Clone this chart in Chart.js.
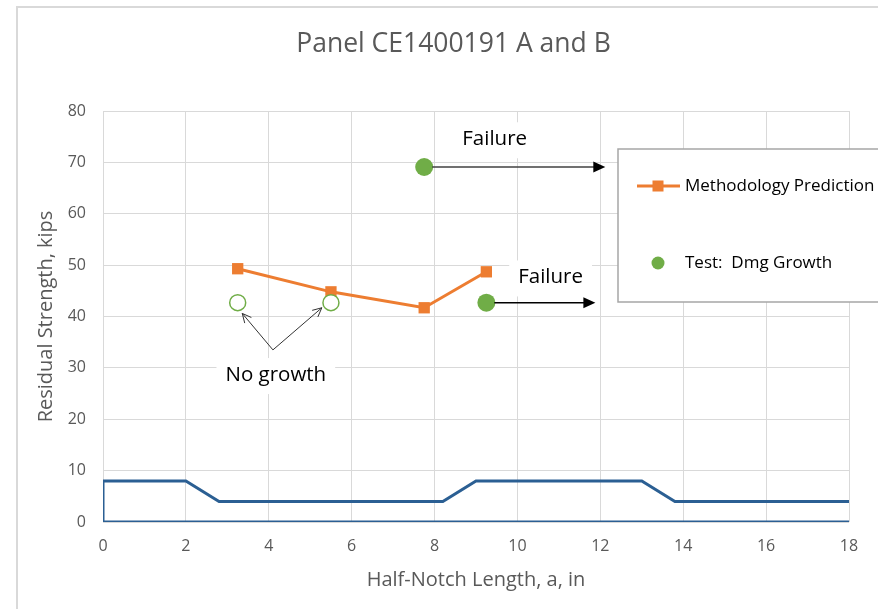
<!DOCTYPE html>
<html>
<head>
<meta charset="utf-8">
<script src="https://cdn.jsdelivr.net/npm/chart.js@4.4.1/dist/chart.umd.min.js"></script>
<style>
  html, body { margin: 0; padding: 0; background: #ffffff; }
  #wrap { position: relative; width: 878px; height: 609px; }
</style>
</head>
<body>
<div id="wrap"><canvas id="c"></canvas></div>
<script>
// ---- data ----
const chartTitle = 'Panel CE1400191 A and B';
const xTitle = 'Half-Notch Length, a, in';
const yTitle = 'Residual Strength, kips';
const xTickValues = [0, 2, 4, 6, 8, 10, 12, 14, 16, 18];
const yTickValues = [0, 10, 20, 30, 40, 50, 60, 70, 80];

const predLabel = 'Methodology Prediction';
const predX = [3.25, 5.5, 7.75, 9.25];
const predY = [49.3, 44.8, 41.7, 48.7];

const testLabel = 'Test:  Dmg Growth';
const testX = [7.75, 9.25];
const testY = [69.1, 42.7];

const noGrowthX = [3.25, 5.5];
const noGrowthY = [42.7, 42.7];

// panel profile outline (schematic)
const panelX = [18, 0, 0, 2, 2.8, 8.2, 9, 13, 13.8, 18];
const panelY = [0, 0, 8, 8, 4, 4, 8, 8, 4, 4];

// annotations (data units)
const noteTexts = ['Failure', 'Failure', 'No growth'];
const noteX = [9.45, 10.8, 4.17];
const noteY = [74.5, 47.6, 28.6];
const arrowFromX = [7.75, 9.25];
const arrowToX = [12.12, 11.88];
const arrowY = [69.1, 42.7];
const ngFromX = [4.1, 4.1];
const ngFromY = [33.5, 33.5];
const ngToX = [3.36, 5.28];
const ngToY = [40.6, 41.7];

// ---- styles ----
const FONT = '"Open Sans", Lato, "DejaVu Sans", sans-serif';
const GREY = '#595959';
const ORANGE = '#ED7D31';
const GREEN = '#70AD47';
const BLUE = '#2B5F93';
const GRID = '#d9d9d9';

const toPts = (xs, ys) => xs.map((x, i) => ({x: x, y: ys[i]}));

const annotationPlugin = {
  id: 'notes',
  beforeDatasetsDraw(chart) {
    const ctx = chart.ctx, xs = chart.scales.x, ys = chart.scales.y;
    ctx.save();
    ctx.font = '20.5px ' + FONT;
    ctx.fillStyle = '#ffffff';
    noteTexts.forEach((t, i) => {
      const w = ctx.measureText(t).width;
      const cx = xs.getPixelForValue(noteX[i]);
      const cy = ys.getPixelForValue(noteY[i]);
      ctx.fillRect(cx - w / 2 - 9, cy - 17, w + 18, 36);
    });
    ctx.restore();
  },
  afterDatasetsDraw(chart) {
    const ctx = chart.ctx, xs = chart.scales.x, ys = chart.scales.y;
    ctx.save();
    // title
    ctx.font = '26.5px ' + FONT;
    ctx.fillStyle = GREY;
    ctx.textAlign = 'center';
    ctx.textBaseline = 'middle';
    ctx.fillText(chartTitle, 453.5, 44);
    // text
    ctx.font = '20.5px ' + FONT;
    ctx.fillStyle = '#000000';
    noteTexts.forEach((t, i) => {
      ctx.fillText(t, xs.getPixelForValue(noteX[i]), ys.getPixelForValue(noteY[i]));
    });
    // failure arrows
    arrowFromX.forEach((fx, i) => {
      const x0 = xs.getPixelForValue(fx) + 8;
      const x1 = xs.getPixelForValue(arrowToX[i]);
      const y = ys.getPixelForValue(arrowY[i]);
      ctx.strokeStyle = i === 0 ? '#404040' : '#000000';
      ctx.lineWidth = 1.5;
      ctx.beginPath();
      ctx.moveTo(x0, y);
      ctx.lineTo(x1 - 10, y);
      ctx.stroke();
      ctx.fillStyle = '#000000';
      ctx.beginPath();
      ctx.moveTo(x1, y);
      ctx.lineTo(x1 - 12, y - 5.5);
      ctx.lineTo(x1 - 12, y + 5.5);
      ctx.closePath();
      ctx.fill();
    });
    // no growth arrows
    ctx.strokeStyle = '#333333';
    ctx.lineWidth = 1;
    ngToX.forEach((tx, i) => {
      const x0 = xs.getPixelForValue(ngFromX[i]);
      const y0 = ys.getPixelForValue(ngFromY[i]);
      const x1 = xs.getPixelForValue(tx);
      const y1 = ys.getPixelForValue(ngToY[i]);
      ctx.beginPath();
      ctx.moveTo(x0, y0);
      ctx.lineTo(x1, y1);
      ctx.stroke();
      const a = Math.atan2(y1 - y0, x1 - x0);
      const L = 10;
      ctx.beginPath();
      ctx.moveTo(x1 - L * Math.cos(a - 0.45), y1 - L * Math.sin(a - 0.45));
      ctx.lineTo(x1, y1);
      ctx.lineTo(x1 - L * Math.cos(a + 0.45), y1 - L * Math.sin(a + 0.45));
      ctx.stroke();
    });
    ctx.restore();

    // legend box
    const lx = 618, ly = 149, lw = 300, lh = 153;
    ctx.save();
    ctx.fillStyle = '#ffffff';
    ctx.fillRect(lx, ly, lw, lh);
    ctx.strokeStyle = '#a6a6a6';
    ctx.lineWidth = 1.5;
    ctx.strokeRect(lx, ly, lw, lh);
    const items = [chart.data.datasets[1], chart.data.datasets[2]];
    const rowsY = [ly + 37, ly + 114];
    ctx.font = '17px ' + FONT;
    ctx.textBaseline = 'middle';
    ctx.textAlign = 'left';
    items.forEach((ds, i) => {
      const y = rowsY[i];
      const mx = lx + 40;
      if (ds.showLine) {
        ctx.strokeStyle = ds.borderColor;
        ctx.lineWidth = 3;
        ctx.beginPath();
        ctx.moveTo(lx + 19, y);
        ctx.lineTo(lx + 62, y);
        ctx.stroke();
      }
      ctx.fillStyle = ds.pointBackgroundColor;
      if (ds.pointStyle === 'rect') {
        ctx.fillRect(mx - 5.5, y - 5.5, 11, 11);
      } else {
        ctx.beginPath();
        ctx.arc(mx, y, 6.5, 0, Math.PI * 2);
        ctx.fill();
      }
      ctx.fillStyle = '#000000';
      ctx.fillText(ds.label, lx + 67, y);
    });
    ctx.restore();
  },
  afterDraw(chart) {
    const ctx = chart.ctx;
    ctx.save();
    ctx.strokeStyle = GRID;
    ctx.lineWidth = 2;
    ctx.strokeRect(17, 7, 900, 700);
    ctx.restore();
  }
};

new Chart(document.getElementById('c'), {
  type: 'scatter',
  data: {
    datasets: [
      {
        label: 'Panel',
        data: toPts(panelX, panelY),
        showLine: true,
        borderColor: BLUE,
        borderWidth: 3,
        pointRadius: 0,
        fill: false,
        order: 3
      },
      {
        label: predLabel,
        data: toPts(predX, predY),
        showLine: true,
        borderColor: ORANGE,
        borderWidth: 3,
        pointStyle: 'rect',
        pointRadius: 8,
        pointBackgroundColor: ORANGE,
        pointBorderColor: ORANGE,
        pointBorderWidth: 0,
        order: 2
      },
      {
        label: testLabel,
        data: toPts(testX, testY),
        showLine: false,
        pointStyle: 'circle',
        pointRadius: 9,
        pointBackgroundColor: GREEN,
        pointBorderColor: GREEN,
        pointBorderWidth: 0,
        borderColor: GREEN,
        order: 1
      },
      {
        label: 'No growth',
        data: toPts(noGrowthX, noGrowthY),
        showLine: false,
        pointStyle: 'circle',
        pointRadius: 8,
        pointBackgroundColor: '#ffffff',
        pointBorderColor: GREEN,
        pointBorderWidth: 1.5,
        order: 1
      }
    ]
  },
  options: {
    responsive: true,
    maintainAspectRatio: false,
    animation: false,
    events: [],
    layout: { padding: { left: 0, right: 29, top: 111, bottom: 0 } },
    plugins: {
      legend: { display: false },
      tooltip: { enabled: false },
      title: { display: false }
    },
    scales: {
      x: {
        type: 'linear',
        min: 0, max: 18,
        afterBuildTicks: (s) => { s.ticks = xTickValues.map(v => ({value: v})); },
        afterFit: (s) => { s.height = 87; },
        ticks: { color: GREY, font: { family: FONT, size: 16 }, padding: 15, maxRotation: 0 },
        grid: { color: GRID, lineWidth: 1, drawTicks: false },
        border: { display: false },
        title: { display: true, text: xTitle, color: GREY, font: { family: FONT, size: 20 }, padding: { top: 0, bottom: 17 } }
      },
      y: {
        type: 'linear',
        min: 0, max: 80,
        afterBuildTicks: (s) => { s.ticks = yTickValues.map(v => ({value: v})); },
        afterFit: (s) => { s.width = 103; },
        ticks: { color: GREY, font: { family: FONT, size: 16 }, padding: 17 },
        grid: { color: GRID, lineWidth: 1, drawTicks: false },
        border: { display: false },
        title: { display: true, text: yTitle, color: GREY, font: { family: FONT, size: 20 }, padding: { top: 34, bottom: 0 } }
      }
    }
  },
  plugins: [annotationPlugin]
});
</script>
</body>
</html>
